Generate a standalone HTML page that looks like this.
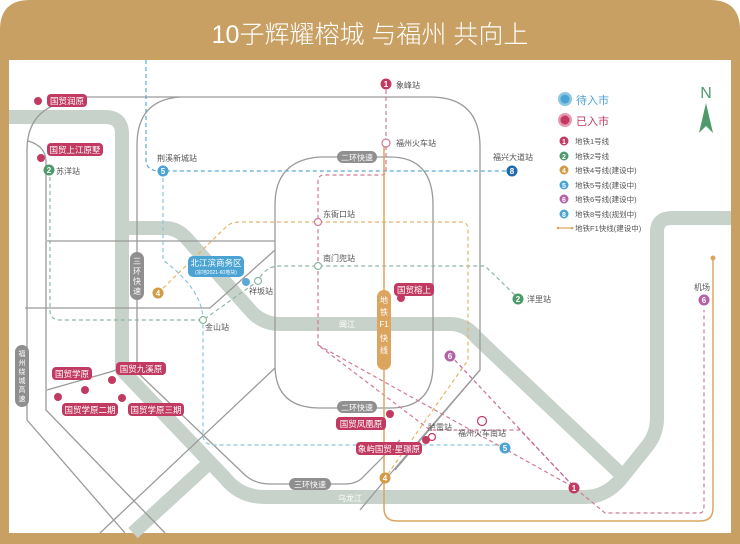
<!DOCTYPE html>
<html><head><meta charset="utf-8"><style>
html,body{margin:0;padding:0;width:740px;height:544px;overflow:hidden;background:#fff}
svg{display:block}
text{font-family:"Liberation Sans","Noto Sans CJK SC",sans-serif}
</style></head><body>
<svg width="740" height="544" viewBox="0 0 740 544" xmlns="http://www.w3.org/2000/svg">
<path d="M0,544 V30 Q0,0 30,0 H710 Q740,0 740,30 V544 Z" fill="#c9a063"/>
<rect x="9" y="60" width="722" height="473" fill="#fff"/>
<text x="370" y="43" font-size="25" fill="#fff" text-anchor="middle" font-family="Liberation Sans,Noto Sans CJK SC,sans-serif" font-weight="300">10子辉耀榕城 与福州 共向上</text>

<g fill="none" stroke="#c7d2cb" stroke-width="14" stroke-linejoin="round">
<path d="M9,117 H105 Q122,117 122,134 V370 L225,478 Q240,497 265,497 H585 Q605,497 620,480 L648,445 Q657,433 657,418 V232 Q657,218 672,218 H731"/>
<path d="M122,228 H165 Q178,228 188,240 L250,310 Q262,324 280,324 H450 Q466,324 476,337 L625,478"/>
<path d="M207,465 L133,533"/>
</g>

<g fill="none" stroke="#9a9a9a" stroke-width="1.3">
<path d="M85,97 H430 Q480,97 480,147 V370 L395,470"/>
<path d="M57,104 Q27,115 27,150 V420 L125,533"/>
<path d="M28,141 Q46,146 46,162 V410 L165,533"/>
<path d="M180,97 Q137,100 137,145 V372 L245,475 Q255,484 270,484 H345 Q358,484 365,475 L400,440"/>
<path d="M320,157 Q275,160 275,205 V365 Q275,408 320,408 H390 Q433,408 433,365 V205 Q433,157 390,157 Z"/>
<path d="M47,241 H275"/>
<path d="M25,308 H210 L275,250"/>
<path d="M47,390 L110,372 L122,368"/>
<path d="M275,368 L100,533"/>
<path d="M480,370 L385,480 L360,510"/>
</g>

<!-- metro dashed -->
<g fill="none" stroke-width="1.2" stroke-dasharray="4,3">
<path d="M146,60 V160 Q146,171 160,171 H512" stroke="#5aa9d6"/>
<path d="M163,171 V260 Q203,290 203,320 V435 Q203,445 215,445 H505" stroke="#8cc4dc"/>
<path d="M50,170 V310 Q50,320 60,320 H203 L258,281 Q265,266 280,266 H485 L518,298" stroke="#8fb6a2"/>
<path d="M158,293 L225,228 Q230,222 240,222 H462 Q468,222 468,230 V360 L385,478" stroke="#e4b56a"/>
<path d="M386,83 V172 Q386,175 380,175 H324 Q318,175 318,182 V345 L430,430 H520 L575,488 L605,513 H700 Q704,513 704,505 V310" stroke="#cf7a96"/>
<path d="M318,345 L575,488" stroke="#cf7a96"/>
<path d="M450,355 L575,488" stroke="#c36b9c"/>
</g>
<!-- F1 -->
<path d="M384,140 V508 Q384,521 397,521 H700 Q713,521 713,508 V258" fill="none" stroke="#dca55f" stroke-width="1.5"/>
<circle cx="713" cy="258" r="2.5" fill="#dca55f"/>

<!-- road labels -->
<g font-size="8" fill="#fff" text-anchor="middle">
<rect x="337" y="151" width="40" height="12" rx="6" fill="#8f8f8f"/><text x="357" y="160.5">二环快速</text>
<rect x="337" y="401" width="40" height="12" rx="6" fill="#8f8f8f"/><text x="357" y="410.5">二环快速</text>
<rect x="289" y="478" width="42" height="12" rx="6" fill="#8f8f8f"/><text x="310" y="487.5">三环快速</text>
<rect x="130" y="252" width="14" height="48" rx="7" fill="#8f8f8f"/>
<text x="137" y="264">三</text><text x="137" y="274">环</text><text x="137" y="284">快</text><text x="137" y="294">速</text>
<rect x="15" y="345" width="14" height="62" rx="7" fill="#8f8f8f"/>
<text x="22" y="356" font-size="7">福</text><text x="22" y="365" font-size="7">州</text><text x="22" y="374" font-size="7">绕</text><text x="22" y="383" font-size="7">城</text><text x="22" y="392" font-size="7">高</text><text x="22" y="401" font-size="7">速</text>
<rect x="377" y="290" width="14" height="80" rx="7" fill="#dca55f"/>
<text x="384" y="303">地</text><text x="384" y="315">铁</text><text x="384" y="327">F1</text><text x="384" y="341">快</text><text x="384" y="353">线</text>
<text x="347" y="327" fill="#fff">闽江</text>
<text x="350" y="501" fill="#fff">乌龙江</text>
</g>

<!-- station labels -->
<g font-size="8" fill="#555">
<text x="396" y="88">象峰站</text>
<text x="396" y="146">福州火车站</text>
<text x="493" y="160">福兴大道站</text>
<text x="157" y="161">荆溪新城站</text>
<text x="56" y="174">苏洋站</text>
<text x="323" y="217">东衙口站</text>
<text x="323" y="261">南门兜站</text>
<text x="249" y="294">祥坂站</text>
<text x="205" y="330">金山站</text>
<text x="527" y="302">洋里站</text>
<text x="694" y="290">机场</text>
<text x="428" y="430">胪雷站</text>
<text x="458" y="436">福州火车南站</text>
</g>
<g fill="#fff" stroke-width="1.2">
<circle cx="386" cy="143" r="4" stroke="#cf7a96"/>
<circle cx="318" cy="222" r="3.5" stroke="#cf7a96"/>
<circle cx="318" cy="266" r="3.5" stroke="#8fb6a2"/>
<circle cx="258" cy="281" r="3.5" stroke="#8fb6a2"/>
<circle cx="203" cy="320" r="3.5" stroke="#8fb6a2"/>
<circle cx="432" cy="437" r="3.5" stroke="#c23a62"/>
<circle cx="482" cy="421" r="4.5" stroke="#c23a62"/>
</g>
<circle cx="246" cy="282" r="4" fill="#5aa9d6"/>

<!-- line number badges -->
<g font-size="8" font-weight="bold" fill="#fff" text-anchor="middle">
<circle cx="386" cy="84" r="5.5" fill="#c23a62"/><text x="386" y="87">1</text>
<circle cx="574" cy="488" r="5.5" fill="#c23a62"/><text x="574" y="491">1</text>
<circle cx="49" cy="170" r="5.5" fill="#4e9a6a"/><text x="49" y="173">2</text>
<circle cx="518" cy="299" r="5.5" fill="#4e9a6a"/><text x="518" y="302">2</text>
<circle cx="158" cy="293" r="5.5" fill="#d49a45"/><text x="158" y="296">4</text>
<circle cx="385" cy="478" r="5.5" fill="#d49a45"/><text x="385" y="481">4</text>
<circle cx="163" cy="171" r="5.5" fill="#4aa3d3"/><text x="163" y="174">5</text>
<circle cx="505" cy="448" r="5.5" fill="#4aa3d3"/><text x="505" y="451">5</text>
<circle cx="450" cy="356" r="5.5" fill="#b462a8"/><text x="450" y="359">6</text>
<circle cx="704" cy="300" r="5.5" fill="#b462a8"/><text x="704" y="303">6</text>
<circle cx="512" cy="171" r="5.5" fill="#1e6cae"/><text x="512" y="174">8</text>
</g>

<!-- pink project tags -->
<g font-size="8.5" fill="#fff" text-anchor="middle">
<circle cx="38" cy="101" r="4" fill="#c23a62"/>
<rect x="47" y="94" width="40" height="13" rx="4" fill="#c23a62"/><text x="67" y="104">国贸润原</text>
<circle cx="41" cy="158" r="4" fill="#c23a62"/>
<rect x="47" y="143" width="56" height="13" rx="4" fill="#c23a62"/><text x="75" y="153">国贸上江原墅</text>
<circle cx="401" cy="298" r="4" fill="#c23a62"/>
<rect x="394" y="283" width="40" height="13" rx="4" fill="#c23a62"/><text x="414" y="293">国贸榕上</text>
<rect x="52" y="367" width="40" height="13" rx="4" fill="#c23a62"/><text x="72" y="377">国贸学原</text>
<circle cx="85" cy="390" r="4" fill="#c23a62"/>
<rect x="116" y="362" width="50" height="13" rx="4" fill="#c23a62"/><text x="141" y="372">国贸九溪原</text>
<circle cx="112" cy="380" r="4" fill="#c23a62"/>
<circle cx="58" cy="397" r="4" fill="#c23a62"/>
<rect x="62" y="403" width="56" height="13" rx="4" fill="#c23a62"/><text x="90" y="413">国贸学原二期</text>
<circle cx="122" cy="398" r="4" fill="#c23a62"/>
<rect x="128" y="403" width="56" height="13" rx="4" fill="#c23a62"/><text x="156" y="413">国贸学原三期</text>
<circle cx="390" cy="414" r="4" fill="#c23a62"/>
<rect x="336" y="417" width="50" height="13" rx="4" fill="#c23a62"/><text x="361" y="427">国贸凤凰原</text>
<circle cx="426" cy="440" r="4" fill="#c23a62"/>
<rect x="356" y="442" width="66" height="13" rx="4" fill="#c23a62"/><text x="389" y="452">象屿国贸·星璟原</text>
</g>

<!-- blue CBD tag -->
<rect x="188" y="256" width="56" height="21" rx="5" fill="#4aa3d3"/>
<text x="216" y="266" font-size="8.5" fill="#fff" text-anchor="middle">北江滨商务区</text>
<text x="216" y="274" font-size="5" fill="#fff" text-anchor="middle">(宗地2021-60地块)</text>

<!-- legend -->
<circle cx="565" cy="99" r="7" fill="#8cc6e0"/><circle cx="565" cy="99" r="4.5" fill="#4aa3d3"/>
<text x="576" y="104" font-size="11" fill="#4aa3d3">待入市</text>
<circle cx="565" cy="120" r="7" fill="#e59ab2"/><circle cx="565" cy="120" r="4.5" fill="#c23a62"/>
<text x="576" y="125" font-size="11" fill="#c23a62">已入市</text>
<g font-size="7.5" fill="#555">
<g font-weight="bold" fill="#fff" text-anchor="middle">
<circle cx="564" cy="141" r="4.5" fill="#c23a62"/><text x="564" y="144" font-size="7">1</text>
<circle cx="564" cy="156" r="4.5" fill="#4e9a6a"/><text x="564" y="159" font-size="7">2</text>
<circle cx="564" cy="170" r="4.5" fill="#d49a45"/><text x="564" y="173" font-size="7">4</text>
<circle cx="564" cy="185" r="4.5" fill="#4aa3d3"/><text x="564" y="188" font-size="7">5</text>
<circle cx="564" cy="199" r="4.5" fill="#b462a8"/><text x="564" y="202" font-size="7">6</text>
<circle cx="564" cy="214" r="4.5" fill="#4aa3d3"/><text x="564" y="217" font-size="7">8</text>
</g>
<text x="575" y="144">地铁1号线</text>
<text x="575" y="159">地铁2号线</text>
<text x="575" y="173">地铁4号线(建设中)</text>
<text x="575" y="188">地铁5号线(建设中)</text>
<text x="575" y="202">地铁6号线(建设中)</text>
<text x="575" y="217">地铁8号线(规划中)</text>
<text x="575" y="231">地铁F1快线(建设中)</text>
</g>
<path d="M558,228 H572" stroke="#dca55f" stroke-width="1.2"/>
<circle cx="558" cy="228" r="1.3" fill="#dca55f"/><circle cx="572" cy="228" r="1.3" fill="#dca55f"/>

<!-- north -->
<text x="706" y="98" font-size="16" fill="#4e9a6a" text-anchor="middle">N</text>
<path d="M706,103 L713,133 L706,126 L699,133 Z" fill="#4e9a6a"/>
</svg>
</body></html>
